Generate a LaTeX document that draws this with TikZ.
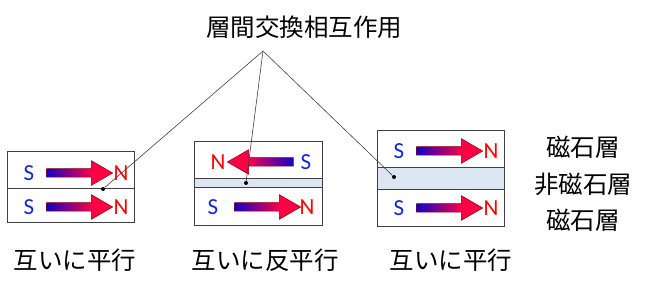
\documentclass[tikz,border=0pt]{standalone}
\usepackage{fontspec}
\setsansfont{Carlito}
\newfontfamily\jpfont{Noto Sans CJK JP}
\usetikzlibrary{shapes.arrows}

\definecolor{magblue}{RGB}{20,0,200}
\definecolor{magred}{RGB}{255,0,70}
\definecolor{spacerblue}{RGB}{220,230,242}
\definecolor{sblue}{RGB}{20,40,210}
\pgfdeclarehorizontalshading{magshade}{100bp}{color(0bp)=(magblue); color(25bp)=(magblue); color(60bp)=(magred); color(100bp)=(magred)}

\begin{document}
\begin{tikzpicture}[x=1pt, y=-1pt]
    \tikzset{
        jp/.style={font=\jpfont\fontsize{24.5}{28}\selectfont, inner sep=0pt},
        pole/.style={font=\sffamily\fontsize{23}{27}\selectfont, inner sep=0pt},
        spole/.style={pole, text=sblue},
        npole/.style={pole, text=red},
        magarrow/.style={single arrow, minimum height=66pt, single arrow head extend=8pt,
            single arrow tip angle=60, inner xsep=0pt, inner ysep=4pt, text height=0pt, text depth=0pt,
            shading=magshade, draw=red!55!black, line width=0.5pt},
        layerbox/.style={draw=black!75, line width=1pt},
        spacer/.style={fill=spacerblue, draw=black!75, line width=1pt},
        dot/.style={circle, fill=black, inner sep=0pt, minimum size=4pt},
        lead/.style={black!75, line width=0.6pt}
    }
    \useasboundingbox (0,0) rectangle (650,288);

    % Title and apex of the leader lines
    \node[jp] (title) at (304,27) {層間交換相互作用};
    \coordinate (apex) at (263,51);

    % Sample 1 - parallel, no spacer
    \draw[layerbox] (7,152) rectangle (134,223);
    \draw[layerbox] (7,189) -- (134,189);
    \node[magarrow] (a1top) at (76,173) {};
    \node[magarrow] (a1bot) at (76,207) {};
    \node[spole] (s1top) at (29,173) {S};
    \node[npole] (n1top) at (121,173) {N};
    \node[spole] (s1bot) at (29,207) {S};
    \node[npole] (n1bot) at (121,207) {N};
    \node[dot] (d1) at (103,189) {};

    % Sample 2 - antiparallel, thin spacer
    \draw[layerbox] (194,142) rectangle (322,226);
    \draw[spacer] (194,179) rectangle (322,188);
    \node[magarrow, shape border rotate=180, shading angle=180] (a2top) at (264,162) {};
    \node[magarrow] (a2bot) at (264,207) {};
    \node[npole] (n2top) at (218,162) {N};
    \node[spole] (s2top) at (306,162) {S};
    \node[spole] (s2bot) at (213,207) {S};
    \node[npole] (n2bot) at (307,207) {N};
    \node[dot] (d2) at (246,183) {};

    % Sample 3 - parallel, thick spacer
    \draw[layerbox] (377,131) rectangle (504,227);
    \draw[spacer] (377,168) rectangle (504,190);
    \node[magarrow] (a3top) at (446,151) {};
    \node[magarrow] (a3bot) at (446,208) {};
    \node[spole] (s3top) at (399,151) {S};
    \node[npole] (n3top) at (491,151) {N};
    \node[spole] (s3bot) at (399,208) {S};
    \node[npole] (n3bot) at (491,208) {N};
    \node[dot] (d3) at (394,177) {};

    % Leader lines from the title to each spacer
    \draw[lead] (apex) -- (d1);
    \draw[lead] (apex) -- (d2);
    \draw[lead] (apex) -- (d3);

    % Layer names
    \node[jp] (mag1) at (583,147) {磁石層};
    \node[jp] (nonmag) at (583,184) {非磁石層};
    \node[jp] (mag2) at (583,220) {磁石層};

    % Captions
    \node[jp] (cap1) at (75,260) {互いに平行};
    \node[jp] (cap2) at (265,260) {互いに反平行};
    \node[jp] (cap3) at (451,260) {互いに平行};
\end{tikzpicture}
\end{document}
